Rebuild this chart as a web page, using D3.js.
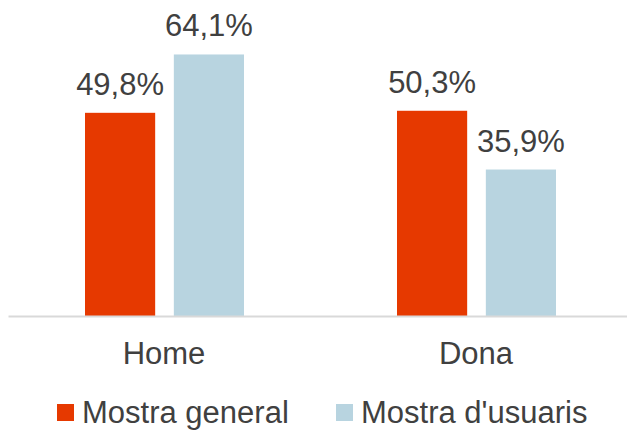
<!DOCTYPE html>
<html>
<head>
<meta charset="utf-8">
<script src="https://cdnjs.cloudflare.com/ajax/libs/d3/7.8.5/d3.min.js"></script>
<style>
  body { margin: 0; background: #fff; }
  text { font-family: "Liberation Sans", Arial, sans-serif; fill: #404040; }
</style>
</head>
<body>
<div id="chart"></div>
<script>
// chart data
var categories = ["Home", "Dona"];
var seriesNames = ["Mostra general", "Mostra d'usuaris"];
var general = [49.8, 50.3];
var usuaris = [64.1, 35.9];

var colors = ["#E63900", "#B8D4E0"];

var width = 627, height = 431;
var baseline = 316;

var svg = d3.select("#chart")
  .append("svg")
  .attr("width", width)
  .attr("height", height);

// group bands
var x0 = d3.scaleBand()
  .domain(categories)
  .range([8, 632])
  .paddingInner(0)
  .paddingOuter(0);

var x1 = d3.scaleBand()
  .domain(seriesNames)
  .range([77, 236])
  .paddingInner(0.21);

var y = d3.scaleLinear()
  .domain([0, 100])
  .range([baseline, baseline - 408]);

var rows = categories.map(function(c, i) {
  return { cat: c, vals: [general[i], usuaris[i]] };
});

var groups = svg.selectAll(".grp")
  .data(rows)
  .enter().append("g")
  .attr("class", "grp")
  .attr("transform", function(d) { return "translate(" + x0(d.cat) + ",0)"; });

groups.selectAll("rect")
  .data(function(d) { return d.vals.map(function(v, k) { return { s: seriesNames[k], v: v, k: k }; }); })
  .enter().append("rect")
  .attr("x", function(d) { return x1(d.s); })
  .attr("width", x1.bandwidth())
  .attr("y", function(d) { return y(d.v); })
  .attr("height", function(d) { return baseline - y(d.v); })
  .attr("fill", function(d) { return colors[d.k]; });

// value labels
groups.selectAll(".lbl")
  .data(function(d) { return d.vals.map(function(v, k) { return { s: seriesNames[k], v: v }; }); })
  .enter().append("text")
  .attr("class", "lbl")
  .attr("x", function(d) { return x1(d.s) + x1.bandwidth() / 2; })
  .attr("y", function(d) { return y(d.v) - 18; })
  .attr("text-anchor", "middle")
  .style("font-size", "31px")
  .text(function(d) { return d.v.toFixed(1).replace(".", ",") + "%"; });

// axis
var axis = svg.append("g")
  .attr("transform", "translate(0," + baseline + ")")
  .call(d3.axisBottom(x0).tickSize(0).tickPadding(26));
axis.select(".domain").attr("stroke", "#D9D9D9").attr("stroke-width", 2);
axis.selectAll("text")
  .attr("transform", "translate(-" + (x0.bandwidth() / 2 - 156) + ",0)")
  .style("font-size", "31px")
  .style("font-family", "'Liberation Sans', Arial, sans-serif")
  .attr("fill", "#404040");

// legend (lifted a touch so descenders stay inside the frame)
var legend = svg.append("g").attr("transform", "translate(57,404)");
var legX = [0, 279];
seriesNames.forEach(function(n, k) {
  var g = legend.append("g").attr("transform", "translate(" + legX[k] + ",0)");
  g.append("rect").attr("width", 17).attr("height", 17).attr("fill", colors[k]);
  g.append("text").attr("x", 25).attr("y", 19).style("font-size", "31px").text(n);
});
</script>
</body>
</html>
